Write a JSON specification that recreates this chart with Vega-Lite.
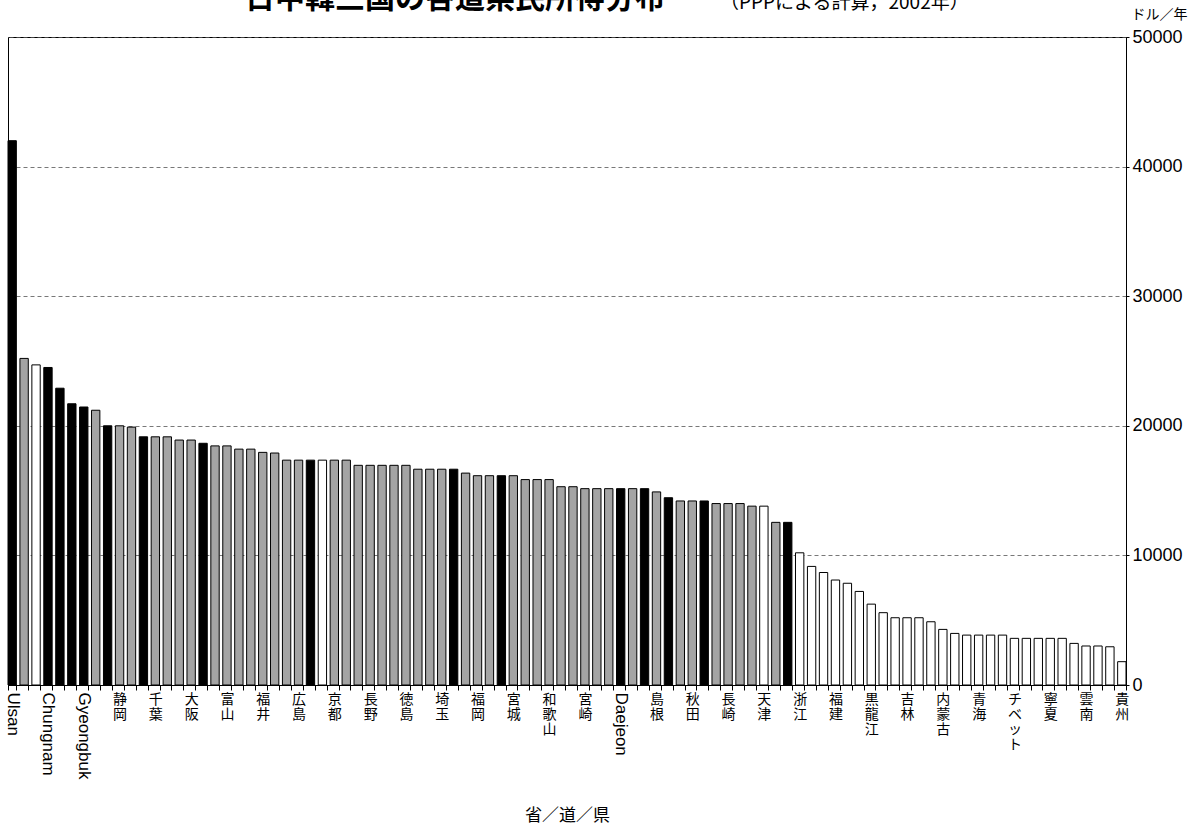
{
 "$schema": "https://vega.github.io/schema/vega-lite/v6.json",
 "width": 1118,
 "height": 648,
 "autosize": {"type": "none"},
 "padding": {"left": 8, "top": 37, "right": 67, "bottom": 140},
 "background": "white",
 "config": {"view": {"stroke": "#000", "strokeWidth": 1}, "font": "Noto Sans CJK JP"},
 "title": {
  "text": "日中韓三国の各道県民所得分布",
  "subtitle": "（PPPによる計算，2002年）",
  "anchor": "start",
  "frame": "group",
  "dx": 237,
  "fontSize": 30,
  "fontWeight": "bold",
  "font": "Noto Sans CJK JP",
  "color": "#000",
  "subtitleFont": "Noto Sans CJK JP",
  "subtitleFontSize": 19,
  "subtitleColor": "#000",
  "subtitlePadding": -24,
  "offset": -7,
  "encode": {"subtitle": {"update": {"dx": {"value": 712}, "dy": {"value": 4}}}}
 },
 "data": {"values": [
  {"name": "Ulsan", "country": "韓国", "income": 42000},
  {"name": "東京", "country": "日本", "income": 25200},
  {"name": "上海", "country": "中国", "income": 24700},
  {"name": "Chungnam", "country": "韓国", "income": 24500},
  {"name": "Gyeongnam", "country": "韓国", "income": 22900},
  {"name": "Jeonnam", "country": "韓国", "income": 21700},
  {"name": "Gyeongbuk", "country": "韓国", "income": 21450},
  {"name": "愛知", "country": "日本", "income": 21200},
  {"name": "Seoul", "country": "韓国", "income": 20000},
  {"name": "静岡", "country": "日本", "income": 20000},
  {"name": "滋賀", "country": "日本", "income": 19900},
  {"name": "Gyeonggi", "country": "韓国", "income": 19150},
  {"name": "千葉", "country": "日本", "income": 19150},
  {"name": "神奈川", "country": "日本", "income": 19150},
  {"name": "栃木", "country": "日本", "income": 18900},
  {"name": "大阪", "country": "日本", "income": 18900},
  {"name": "Chungbuk", "country": "韓国", "income": 18650},
  {"name": "茨城", "country": "日本", "income": 18450},
  {"name": "富山", "country": "日本", "income": 18450},
  {"name": "群馬", "country": "日本", "income": 18200},
  {"name": "三重", "country": "日本", "income": 18200},
  {"name": "福井", "country": "日本", "income": 17950},
  {"name": "山梨", "country": "日本", "income": 17900},
  {"name": "岐阜", "country": "日本", "income": 17350},
  {"name": "広島", "country": "日本", "income": 17350},
  {"name": "Incheon", "country": "韓国", "income": 17350},
  {"name": "北京", "country": "中国", "income": 17350},
  {"name": "京都", "country": "日本", "income": 17350},
  {"name": "石川", "country": "日本", "income": 17350},
  {"name": "香川", "country": "日本", "income": 16950},
  {"name": "長野", "country": "日本", "income": 16950},
  {"name": "兵庫", "country": "日本", "income": 16950},
  {"name": "山口", "country": "日本", "income": 16950},
  {"name": "徳島", "country": "日本", "income": 16950},
  {"name": "新潟", "country": "日本", "income": 16650},
  {"name": "岡山", "country": "日本", "income": 16650},
  {"name": "埼玉", "country": "日本", "income": 16650},
  {"name": "Jeju", "country": "韓国", "income": 16650},
  {"name": "奈良", "country": "日本", "income": 16350},
  {"name": "福岡", "country": "日本", "income": 16150},
  {"name": "福島", "country": "日本", "income": 16150},
  {"name": "Gangwon", "country": "韓国", "income": 16150},
  {"name": "宮城", "country": "日本", "income": 16150},
  {"name": "大分", "country": "日本", "income": 15850},
  {"name": "愛媛", "country": "日本", "income": 15850},
  {"name": "和歌山", "country": "日本", "income": 15850},
  {"name": "山形", "country": "日本", "income": 15300},
  {"name": "北海道", "country": "日本", "income": 15300},
  {"name": "宮崎", "country": "日本", "income": 15150},
  {"name": "佐賀", "country": "日本", "income": 15150},
  {"name": "鳥取", "country": "日本", "income": 15150},
  {"name": "Daejeon", "country": "韓国", "income": 15150},
  {"name": "岩手", "country": "日本", "income": 15150},
  {"name": "Jeonbuk", "country": "韓国", "income": 15150},
  {"name": "島根", "country": "日本", "income": 14900},
  {"name": "Busan", "country": "韓国", "income": 14450},
  {"name": "熊本", "country": "日本", "income": 14200},
  {"name": "秋田", "country": "日本", "income": 14200},
  {"name": "Gwangju", "country": "韓国", "income": 14200},
  {"name": "鹿児島", "country": "日本", "income": 14000},
  {"name": "長崎", "country": "日本", "income": 14000},
  {"name": "高知", "country": "日本", "income": 14000},
  {"name": "青森", "country": "日本", "income": 13800},
  {"name": "天津", "country": "中国", "income": 13800},
  {"name": "沖縄", "country": "日本", "income": 12550},
  {"name": "Daegu", "country": "韓国", "income": 12550},
  {"name": "浙江", "country": "中国", "income": 10200},
  {"name": "広東", "country": "中国", "income": 9150},
  {"name": "江蘇", "country": "中国", "income": 8680},
  {"name": "福建", "country": "中国", "income": 8100},
  {"name": "遼寧", "country": "中国", "income": 7850},
  {"name": "山東", "country": "中国", "income": 7220},
  {"name": "黒龍江", "country": "中国", "income": 6240},
  {"name": "河北", "country": "中国", "income": 5580},
  {"name": "新疆", "country": "中国", "income": 5190},
  {"name": "吉林", "country": "中国", "income": 5190},
  {"name": "湖北", "country": "中国", "income": 5190},
  {"name": "海南", "country": "中国", "income": 4880},
  {"name": "内蒙古", "country": "中国", "income": 4290},
  {"name": "河南", "country": "中国", "income": 3980},
  {"name": "湖南", "country": "中国", "income": 3850},
  {"name": "青海", "country": "中国", "income": 3850},
  {"name": "山西", "country": "中国", "income": 3850},
  {"name": "重慶", "country": "中国", "income": 3850},
  {"name": "チベット", "country": "中国", "income": 3600},
  {"name": "江西", "country": "中国", "income": 3600},
  {"name": "四川", "country": "中国", "income": 3600},
  {"name": "寧夏", "country": "中国", "income": 3600},
  {"name": "安徽", "country": "中国", "income": 3600},
  {"name": "広西", "country": "中国", "income": 3210},
  {"name": "雲南", "country": "中国", "income": 3010},
  {"name": "陝西", "country": "中国", "income": 3010},
  {"name": "甘粛", "country": "中国", "income": 2950},
  {"name": "貴州", "country": "中国", "income": 1800}
 ]},
 "mark": {"type": "bar", "stroke": "#000", "strokeWidth": 1},
 "encoding": {
  "x": {
   "field": "name", "type": "nominal", "sort": null,
   "scale": {"paddingInner": 0.3, "paddingOuter": 0},
   "axis": {
    "title": "省／道／県",
    "titleFont": "Noto Sans CJK JP",
    "titleFontSize": 17,
    "titleFontWeight": "normal",
    "titleColor": "#000",
    "titleY": 130,
    "titleBaseline": "middle",
    "labelExpr": "indexof(['Ulsan','Chungnam','Gyeongbuk','静岡','千葉','大阪','富山','福井','広島','京都','長野','徳島','埼玉','福岡','宮城','和歌山','宮崎','Daejeon','島根','秋田','長崎','天津','浙江','福建','黒龍江','吉林','内蒙古','青海','チベット','寧夏','雲南','貴州'], datum.value) < 0 ? '' : (test(/^[A-Za-z]/, datum.value) ? datum.value : split(datum.value, ''))",
    "labelAngle": {"expr": "test(/^[A-Za-z]/, datum.value) ? 90 : 0"},
    "labelAlign": {"condition": {"test": "test(/^[A-Za-z]/, datum.value)", "value": "left"}, "value": "center"},
    "labelBaseline": {"condition": {"test": "test(/^[A-Za-z]/, datum.value)", "value": "middle"}, "value": "top"},
    "labelFont": {"condition": {"test": "test(/^[A-Za-z]/, datum.value)", "value": "Liberation Sans"}, "value": "Noto Sans CJK JP"},
    "labelFontSize": {"condition": {"test": "test(/^[A-Za-z]/, datum.value)", "value": 17}, "value": 14},
    "labelLineHeight": 15,
    "labelColor": "#000",
    "labelOverlap": false,
    "labelBound": false,
    "labelFlush": false,
    "labelPadding": 2,
    "labelLimit": 0,
    "tickBand": "extent",
    "tickSize": 5,
    "tickColor": "#000",
    "domainColor": "#000"
   }
  },
  "y": {
   "field": "income", "type": "quantitative",
   "scale": {"domain": [0, 50000]},
   "axis": {
    "orient": "right",
    "title": "ドル／年",
    "titleAngle": 0,
    "titleX": 61,
    "titleY": -23,
    "titleAlign": "right",
    "titleBaseline": "middle",
    "titleFont": "Noto Sans CJK JP",
    "titleFontSize": 14,
    "titleFontWeight": "normal",
    "titleColor": "#000",
    "values": [0, 10000, 20000, 30000, 40000, 50000],
    "format": "d",
    "labelFont": "Liberation Sans",
    "labelFontSize": 18,
    "labelColor": "#000",
    "labelPadding": 3,
    "labelFlush": false,
    "tickSize": 3,
    "tickColor": "#000",
    "grid": true,
    "gridDash": [4, 3],
    "gridColor": "#555",
    "gridWidth": 0.8,
    "domainColor": "#000"
   }
  },
  "color": {
   "field": "country", "type": "nominal",
   "scale": {"domain": ["韓国", "日本", "中国"], "range": ["#000000", "#a4a4a4", "#ffffff"]},
   "legend": null
  }
 }
}
